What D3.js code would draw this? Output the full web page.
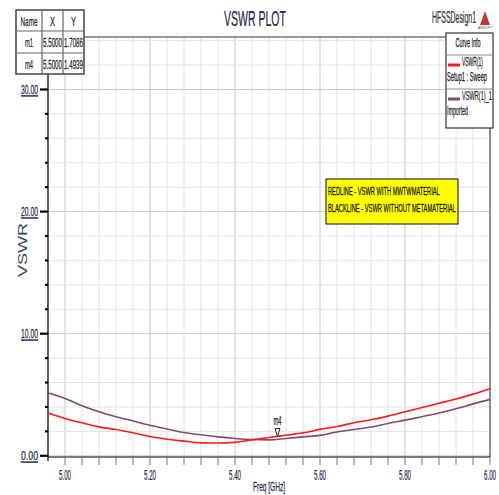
<!DOCTYPE html>
<html>
<head>
<meta charset="utf-8">
<script src="https://cdn.jsdelivr.net/npm/d3@7"></script>
<style>
  html, body { margin: 0; padding: 0; background: #fff; }
  svg { display: block; }
  text { font-family: "Liberation Sans", Arial, sans-serif; }
</style>
</head>
<body>
<div id="chart"></div>
<script>
const WIDTH = 499;
const HEIGHT = 495;

// frequency samples (GHz)
const freq = [4.96, 5.00, 5.04, 5.08, 5.12, 5.16, 5.20, 5.24, 5.28, 5.32, 5.36, 5.40, 5.44, 5.48,
              5.52, 5.56, 5.60, 5.64, 5.68, 5.72, 5.76, 5.80, 5.84, 5.88, 5.92, 5.96, 6.00];
// VSWR(1) - red, with metamaterial
const vswrRed = [3.50, 3.06, 2.70, 2.37, 2.15, 1.88, 1.58, 1.35, 1.20, 1.06, 1.05, 1.10, 1.30, 1.50,
                 1.68, 1.88, 2.16, 2.40, 2.70, 2.95, 3.25, 3.60, 3.95, 4.30, 4.65, 5.05, 5.50];
// VSWR(1)_1 - imported, without metamaterial
const vswrPurple = [5.15, 4.70, 4.10, 3.60, 3.20, 2.85, 2.50, 2.20, 1.90, 1.72, 1.55, 1.42, 1.33, 1.30,
                    1.42, 1.55, 1.67, 1.95, 2.15, 2.35, 2.65, 2.92, 3.20, 3.50, 3.85, 4.25, 4.62];

const xMajor = [5.0, 5.2, 5.4, 5.6, 5.8, 6.0];
const yMajor = [0, 10, 20, 30];

const markerNames = ['m1', 'm4'];
const markerX = [5.5, 5.5];
const markerY = [1.7086, 1.4939];

const legendNames = ['VSWR(1)', 'VSWR(1)_1'];
const legendSub = ['Setup1 : Sweep', 'Imported'];
const noteLines = ['REDLINE - VSWR WITH MWTWMATERIAL', 'BLACKLINE - VSWR WITHOUT METAMATERIAL'];

const LEFT = 48, RIGHT = 490, TOP = 37, BOTTOM = 457;
const NAVY = '#252a4c';

const x = d3.scaleLinear().domain([4.96, 6.0]).range([LEFT, RIGHT]);
const y = d3.scaleLinear().domain([-0.1, 34.3]).range([BOTTOM, TOP]);

const svg = d3.select('#chart').append('svg')
  .attr('width', WIDTH).attr('height', HEIGHT);

// squeezed text: the reference uses a very narrow face, so scale x to a target width
function label(g, str, tx, ty, size, w, anchor, color, rot, sw) {
  const t = g.append('text')
    .attr('x', 0).attr('y', 0)
    .attr('font-size', size)
    .attr('text-anchor', anchor || 'start')
    .attr('fill', color || '#222')
    .attr('stroke', color || '#222')
    .attr('stroke-width', sw === undefined ? 0.25 : sw)
    .text(str);
  const len = t.node().getComputedTextLength() || w;
  const f = w / len;
  t.attr('transform', `translate(${tx},${ty})` + (rot ? ` rotate(${rot})` : '') + ` scale(${f},1)`);
  return t;
}

// grid
const xMinor = d3.range(0, 27).map(i => +(4.96 + i * 0.04).toFixed(2));
const yMinor = d3.range(0, 18).map(i => i * 2);

svg.append('g').selectAll('line').data(xMinor).join('line')
  .attr('x1', d => x(d)).attr('x2', d => x(d))
  .attr('y1', TOP).attr('y2', BOTTOM)
  .attr('stroke', d => xMajor.some(m => Math.abs(m - d) < 1e-6) ? '#c8c8c8' : '#e2e2e2')
  .attr('stroke-width', 1);

svg.append('g').selectAll('line').data(yMinor).join('line')
  .attr('x1', LEFT).attr('x2', RIGHT)
  .attr('y1', d => y(d)).attr('y2', d => y(d))
  .attr('stroke', d => d % 10 === 0 ? '#c8c8c8' : '#e2e2e2')
  .attr('stroke-width', 1);

// frame
svg.append('line').attr('x1', LEFT).attr('x2', RIGHT).attr('y1', TOP).attr('y2', TOP)
  .attr('stroke', '#333').attr('stroke-width', 1.2);
svg.append('line').attr('x1', RIGHT).attr('x2', RIGHT).attr('y1', TOP).attr('y2', BOTTOM)
  .attr('stroke', '#555').attr('stroke-width', 1.2);

// y axis
svg.append('line').attr('x1', LEFT).attr('x2', LEFT).attr('y1', TOP).attr('y2', BOTTOM + 4)
  .attr('stroke', '#000').attr('stroke-width', 1.2);
svg.append('g').selectAll('line').data(yMinor.filter(d => d % 10 !== 0)).join('line')
  .attr('x1', LEFT - 3).attr('x2', LEFT).attr('y1', d => y(d)).attr('y2', d => y(d))
  .attr('stroke', '#000').attr('stroke-width', 2.2);
svg.append('g').selectAll('line').data(yMinor.filter(d => d % 10 === 0)).join('line')
  .attr('x1', LEFT - 8).attr('x2', LEFT).attr('y1', d => y(d)).attr('y2', d => y(d))
  .attr('stroke', '#000').attr('stroke-width', 2.2);
const yLab = svg.append('g');
yMajor.forEach(d => {
  label(yLab, d3.format('.2f')(d), 38, y(d) + 4.5, 13, 17, 'end', NAVY)
    .attr('text-decoration', 'underline');
});

// x axis
svg.append('line').attr('x1', LEFT).attr('x2', RIGHT).attr('y1', BOTTOM).attr('y2', BOTTOM)
  .attr('stroke', '#000').attr('stroke-width', 1.2);
svg.append('g').selectAll('line').data(xMinor.filter(d => d > 4.97)).join('line')
  .attr('x1', d => x(d)).attr('x2', d => x(d)).attr('y1', BOTTOM).attr('y2', BOTTOM + 8)
  .attr('stroke', '#777').attr('stroke-width', 1);
const xLab = svg.append('g');
xMajor.forEach(d => {
  label(xLab, d3.format('.2f')(d), x(d), 480, 14, 12, 'middle', NAVY);
});

label(svg, 'Freq [GHz]', 269, 491, 13, 32, 'middle', NAVY);
label(svg, 'VSWR', 27, 250, 13, 54, 'middle', '#3a3f62', -90, 0);

// curves
const line = d3.line().x(d => x(d[0])).y(d => y(d[1])).curve(d3.curveMonotoneX);
svg.append('path').datum(d3.zip(freq, vswrPurple)).attr('d', line)
  .attr('fill', 'none').attr('stroke', '#7b4d72').attr('stroke-width', 1.6);
svg.append('path').datum(d3.zip(freq, vswrRed)).attr('d', line)
  .attr('fill', 'none').attr('stroke', '#ff1a1a').attr('stroke-width', 1.6);

// marker m4
const mx = x(markerX[1]), my = y(markerY[1]);
svg.append('path')
  .attr('d', `M${mx - 2.5},${my - 9}L${mx + 2.5},${my - 9}L${mx},${my - 1}Z`)
  .attr('fill', '#fff').attr('stroke', '#222').attr('stroke-width', 1);
label(svg, markerNames[1], mx, my - 13, 12, 8, 'middle', '#222');

// title
label(svg, 'VSWR PLOT', 255, 26, 22, 62, 'middle', NAVY);
label(svg, 'HFSSDesign1', 476, 23, 16, 44, 'end', '#333');
svg.append('path').attr('d', 'M485,11L480,25L490,25Z').attr('fill', '#c0392b');
svg.append('text').attr('x', 485).attr('y', 29).attr('text-anchor', 'middle')
  .attr('font-size', 3.5).attr('fill', '#555').text('ANSOFT');

// marker table
const tbl = svg.append('g');
const colX = [16, 42, 63, 84];
const rowY = [10, 31, 53, 74];
const colW = [[17, 5, 5], [8, 19, 19], [8, 19, 19]];
tbl.append('rect').attr('x', colX[0]).attr('y', rowY[0])
  .attr('width', colX[3] - colX[0]).attr('height', rowY[3] - rowY[0])
  .attr('fill', '#fff').attr('stroke', '#444').attr('stroke-width', 1.5);
tbl.selectAll('.vl').data(colX.slice(1, 3)).join('line')
  .attr('x1', d => d).attr('x2', d => d).attr('y1', rowY[0]).attr('y2', rowY[3])
  .attr('stroke', '#666').attr('stroke-width', 1.2);
tbl.selectAll('.hl').data(rowY.slice(1, 3)).join('line')
  .attr('x1', colX[0]).attr('x2', colX[3]).attr('y1', d => d).attr('y2', d => d)
  .attr('stroke', '#666').attr('stroke-width', 1.2);
const cells = [['Name', 'X', 'Y']].concat(markerNames.map((n, i) =>
  [n, d3.format('.4f')(markerX[i]), d3.format('.4f')(markerY[i])]));
cells.forEach((row, r) => {
  row.forEach((c, k) => {
    label(tbl, c, (colX[k] + colX[k + 1]) / 2, (rowY[r] + rowY[r + 1]) / 2 + 5,
      13, colW[r][k], 'middle', '#222');
  });
});

// legend
const lg = svg.append('g');
lg.append('rect').attr('x', 446).attr('y', 33).attr('width', 47).attr('height', 95)
  .attr('fill', '#fff').attr('stroke', '#333').attr('stroke-width', 1.2);
lg.selectAll('line.sep').data([55, 89]).join('line')
  .attr('x1', 446).attr('x2', 493).attr('y1', d => d).attr('y2', d => d)
  .attr('stroke', '#888').attr('stroke-width', 1);
label(lg, 'Curve Info', 468, 47, 12, 25, 'middle', '#222');
const legColors = ['#ff1a1a', '#7b4d72'];
const legRowY = [55, 89];
const legW = [21, 30];
const subW = [40, 21];
legendNames.forEach((n, i) => {
  const ry = legRowY[i];
  lg.append('line').attr('x1', 448).attr('x2', 460).attr('y1', ry + 10).attr('y2', ry + 10)
    .attr('stroke', legColors[i]).attr('stroke-width', 3);
  label(lg, n, 462, ry + 11, 12, legW[i], 'start', '#222');
  label(lg, legendSub[i], 447, ry + 26, 12, subW[i], 'start', '#222');
});

// note box
const nb = svg.append('g');
nb.append('rect').attr('x', 326).attr('y', 179).attr('width', 132).attr('height', 45)
  .attr('fill', '#ffff00').attr('stroke', '#333').attr('stroke-width', 1.2);
const noteW = [112, 128];
noteLines.forEach((t, i) => {
  label(nb, t, 328, 195 + i * 17, 11, noteW[i], 'start', '#111');
});
</script>
</body>
</html>
